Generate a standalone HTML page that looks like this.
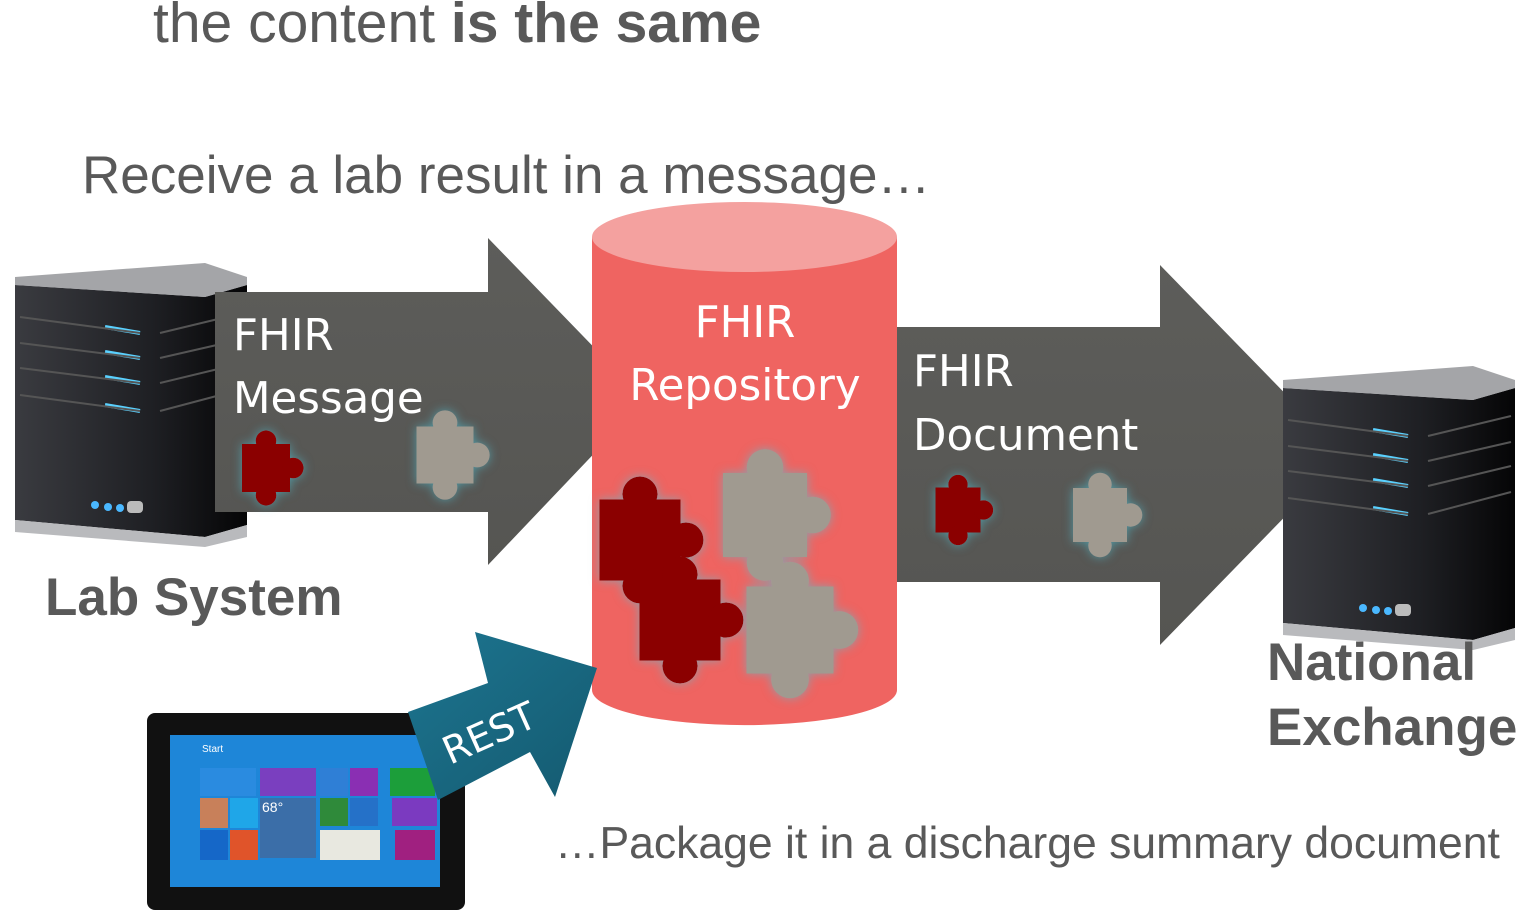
<!DOCTYPE html>
<html><head><meta charset="utf-8"><style>
html,body{margin:0;padding:0;background:#fff;width:1523px;height:921px;overflow:hidden}
</style></head><body>
<svg width="1523" height="921" viewBox="0 0 1523 921" xmlns="http://www.w3.org/2000/svg" font-family="Liberation Sans, sans-serif">
<defs>
<linearGradient id="ag" x1="0" y1="0" x2="0" y2="1"><stop offset="0" stop-color="#5d5d5a"/><stop offset="1" stop-color="#555552"/></linearGradient>
<linearGradient id="srv" x1="0" y1="0" x2="1" y2="0"><stop offset="0" stop-color="#3a3b40"/><stop offset="0.6" stop-color="#1e1f23"/><stop offset="1" stop-color="#050506"/></linearGradient>
<linearGradient id="teal" x1="0" y1="0" x2="1" y2="1"><stop offset="0" stop-color="#1d7590"/><stop offset="1" stop-color="#145a70"/></linearGradient>
<filter id="glow" x="-30%" y="-30%" width="160%" height="160%"><feGaussianBlur in="SourceAlpha" stdDeviation="5" result="b"/><feFlood flood-color="#4fc3d6" flood-opacity="0.6"/><feComposite in2="b" operator="in" result="g"/><feMerge><feMergeNode in="g"/><feMergeNode in="SourceGraphic"/></feMerge></filter>
<g id="pz"><rect x="-30" y="-30" width="60" height="60"/><circle cx="0" cy="-34" r="13"/><circle cx="34" cy="0" r="13"/><circle cx="0" cy="34" r="13"/></g>
<g id="srvg">
<path d="M0 30 L190 18 L232 30 L232 270 L190 282 L0 265 Z" fill="url(#srv)"/>
<path d="M0 30 L190 18 L232 30 L190 42 Z" fill="#c9cacc"/>
<path d="M0 30 L0 22 L190 8 L232 22 L232 30 L190 42 Z" fill="#a4a5a8"/>
<path d="M0 265 L190 282 L232 270 L232 282 L190 292 L0 277 Z" fill="#b9babd"/>
<g stroke="#5ad1ff" stroke-width="4"><line x1="90" y1="72" x2="125" y2="78"/><line x1="90" y1="97" x2="125" y2="103"/><line x1="90" y1="122" x2="125" y2="128"/><line x1="90" y1="150" x2="125" y2="156"/></g>
<g stroke="#555" stroke-width="2"><line x1="5" y1="62" x2="125" y2="78"/><line x1="5" y1="88" x2="125" y2="103"/><line x1="5" y1="113" x2="125" y2="128"/><line x1="5" y1="140" x2="125" y2="156"/><line x1="145" y1="78" x2="228" y2="58"/><line x1="145" y1="103" x2="228" y2="84"/><line x1="145" y1="128" x2="228" y2="108"/><line x1="145" y1="156" x2="228" y2="134"/></g>
<circle cx="80" cy="250" r="4" fill="#4ab8ff"/><circle cx="93" cy="252" r="4" fill="#4ab8ff"/><circle cx="105" cy="253" r="4" fill="#4ab8ff"/><rect x="112" y="246" width="16" height="12" rx="4" fill="#bbb"/>
</g>
</defs>

<text x="153" y="42" font-size="57" fill="#595959">the content <tspan font-weight="bold">is the same</tspan></text>
<text x="82" y="193" font-size="53" fill="#595959">Receive a lab result in a message…</text>

<use href="#srvg" transform="translate(15,255)"/>
<polygon points="215,292 488,292 488,238 645,400 488,565 488,512 215,512" fill="url(#ag)"/>

<path d="M592 237 L592 690 A152 35 0 0 0 897 690 L897 237 Z" fill="#ef6461"/>
<ellipse cx="744.5" cy="237" rx="152.5" ry="35" fill="#f4a19f"/>

<polygon points="897,327 1160,327 1160,265 1345,455 1160,645 1160,582 897,582" fill="url(#ag)"/>
<use href="#srvg" transform="translate(1283,358)"/>

<g fill="#fff" font-family="DejaVu Sans, sans-serif" font-size="43.5">
<text x="233" y="350">FHIR</text><text x="233" y="413">Message</text>
<text x="745" y="337" text-anchor="middle">FHIR</text><text x="745" y="400" text-anchor="middle">Repository</text>
<text x="913" y="386">FHIR</text><text x="913" y="450">Document</text>
</g>

<g filter="url(#glow)">
<use href="#pz" fill="#8b0000" transform="translate(266,468) scale(0.8)"/>
<use href="#pz" fill="#a09a90" transform="translate(445,455) scale(0.95)"/>
<use href="#pz" fill="#8b0000" transform="translate(958,510) scale(0.75)"/>
<use href="#pz" fill="#a09a90" transform="translate(1100,515) scale(0.9)"/>
<use href="#pz" fill="#a09a90" transform="translate(765,515) scale(1.4)"/>
<use href="#pz" fill="#8b0000" transform="translate(640,540) scale(1.35)"/>
<use href="#pz" fill="#8b0000" transform="translate(680,620) scale(1.35)"/>
<use href="#pz" fill="#a09a90" transform="translate(790,630) scale(1.45)"/>
</g>

<g fill="#595959" font-weight="bold" font-size="53">
<text x="45" y="615">Lab System</text>
<text x="1267" y="680">National</text>
<text x="1267" y="745">Exchange</text>
</g>
<text x="555" y="858" font-size="44.5" fill="#595959">…Package it in a discharge summary document</text>

<rect x="147" y="713" width="318" height="197" rx="8" fill="#111"/>
<rect x="170" y="735" width="270" height="152" fill="#1e86d8"/>
<text x="202" y="752" font-size="10" fill="#fff">Start</text>
<g>
<rect x="200" y="768" width="56" height="28" fill="#2a8be0"/>
<rect x="260" y="768" width="56" height="28" fill="#7a3fbf"/>
<rect x="320" y="768" width="28" height="28" fill="#2f7fd6"/>
<rect x="350" y="768" width="28" height="28" fill="#8a2fb3"/>
<rect x="390" y="768" width="45" height="28" fill="#1c9e3a"/>
<rect x="200" y="798" width="28" height="30" fill="#c8805a"/>
<rect x="230" y="798" width="28" height="30" fill="#1fa6e8"/>
<rect x="260" y="798" width="56" height="60" fill="#3b6ea8"/>
<rect x="320" y="798" width="28" height="28" fill="#2f8a3a"/>
<rect x="350" y="798" width="28" height="28" fill="#2571c8"/>
<rect x="392" y="798" width="45" height="28" fill="#7b3ac0"/>
<rect x="200" y="830" width="28" height="30" fill="#1567c8"/>
<rect x="230" y="830" width="28" height="30" fill="#e0542a"/>
<rect x="320" y="830" width="60" height="30" fill="#e8e8e0"/>
<rect x="395" y="830" width="40" height="30" fill="#a02080"/>
<text x="262" y="812" font-size="14" fill="#fff">68°</text>
</g>
<polygon points="408,712 488,683 475,632 597,668 555,797 530,752 438,800" fill="url(#teal)"/>
<text x="0" y="0" font-family="DejaVu Sans, sans-serif" font-size="38" fill="#fff" transform="translate(450,765) rotate(-24)">REST</text>
</svg>
</body></html>
